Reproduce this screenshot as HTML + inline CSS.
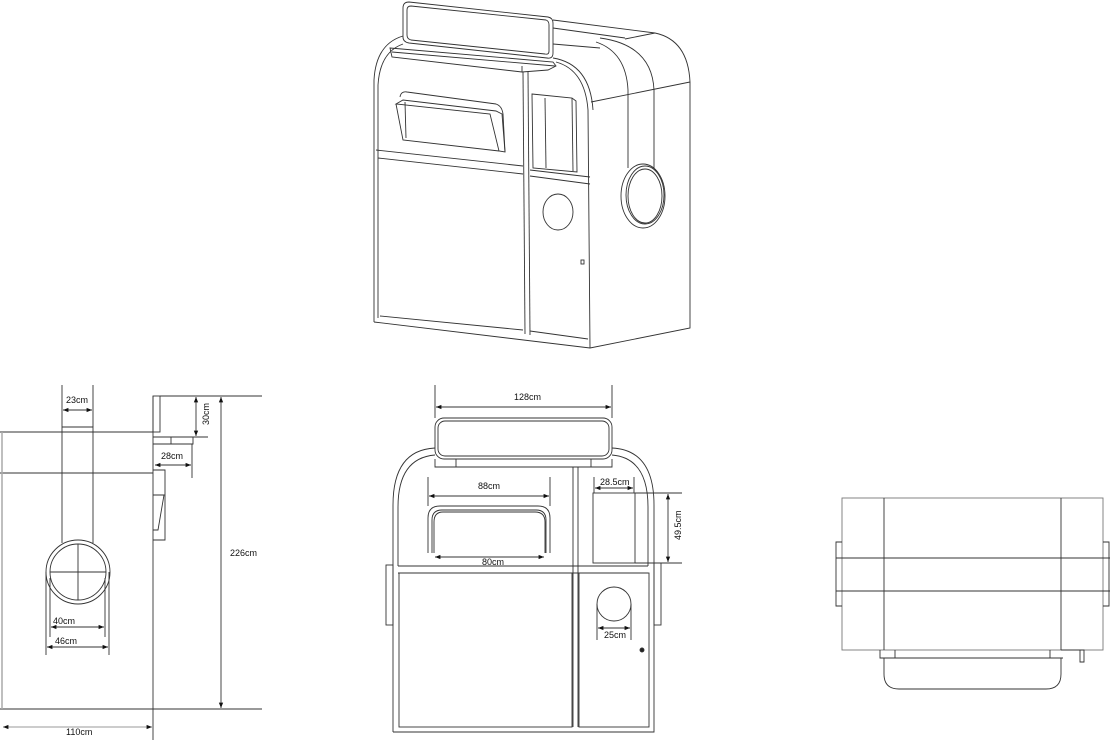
<!DOCTYPE html>
<html><head><meta charset="utf-8"><style>
html,body{margin:0;padding:0;background:#fff;}
svg{display:block;}
text{font-family:"Liberation Sans",sans-serif;font-size:9px;fill:#111;}
</style></head><body>
<svg width="1111" height="745" viewBox="0 0 1111 745" xmlns="http://www.w3.org/2000/svg">
<defs>
<marker id="a" viewBox="0 0 10 10" refX="10" refY="5" markerWidth="6" markerHeight="6" orient="auto-start-reverse"><path d="M0,1 L10,5 L0,9 z" fill="#111"/></marker>
</defs>
<g fill="none" stroke="#333" stroke-width="0.9">

<!-- ISO VIEW -->
<path d="M409,2 L548,17 Q553,18 553,23 L553,53 Q553,59 547,58 L409,43 Q403,42 403,37 L403,8 Q403,2 409,2 z"/>
<path d="M411,6 L546,20 Q549,21 549,25 L549,51 Q549,55 545,54 L411,40 Q407,39 407,35 L407,10 Q407,6 411,6 z"/>
<path d="M390,48 L553,62 L556,66 L548,70 L522,72 L392,57 z"/>
<line x1="392" y1="52" x2="555" y2="66"/>
<line x1="522" y1="66" x2="522" y2="72"/>
<path d="M374,322 L374,80 Q376,44 403,36"/>
<path d="M378,318 L378,85 Q380,52 403,44"/>
<path d="M556,62 Q585,70 588,110 L590,348"/>
<path d="M553,58 Q590,64 593,110"/>
<path d="M374,322 L590,348 L690,328 L690,82"/>
<path d="M553,20 L655,33 Q688,40 690,82"/>
<path d="M553,28 L625,38"/>
<path d="M625,39 L655,33"/>
<path d="M553,44 L600,48"/>
<line x1="591" y1="102" x2="690" y2="82"/>
<path d="M596,42 Q626,52 628,90 L628,168"/>
<path d="M600,38 Q652,45 654,90 L654,168"/>
<ellipse cx="643" cy="196" rx="22" ry="32"/>
<ellipse cx="645" cy="195" rx="19" ry="29"/>
<ellipse cx="645" cy="196" rx="17" ry="27"/>
<line x1="523" y1="72" x2="525" y2="334"/>
<line x1="528" y1="72" x2="530" y2="335"/>
<path d="M400,97 Q401,91 407,92 L496,104 Q502,106 503,114 L505,152"/>
<path d="M396,104 L403,100 L496,111 L502,114 L505,152 L499,151 L490,114 L396,104 z"/>
<path d="M396,104 L403,140 L499,151"/>
<line x1="405" y1="102" x2="406" y2="138"/>
<line x1="376" y1="150" x2="523" y2="166"/>
<line x1="378" y1="158" x2="523" y2="174"/>
<line x1="530" y1="170" x2="590" y2="177"/>
<line x1="530" y1="176" x2="590" y2="184"/>
<path d="M532,94 L572,98 L576,101 L577,172 L533,168 z"/>
<line x1="545" y1="98" x2="546" y2="168"/>
<line x1="572" y1="98" x2="573" y2="171"/>
<line x1="380" y1="316" x2="523" y2="330"/>
<line x1="530" y1="331" x2="588" y2="339"/>
<ellipse cx="558" cy="212" rx="15" ry="18"/>
<rect x="581" y="260" width="3" height="4"/>

<!-- SIDE VIEW -->
<path d="M0,432 L153,432 M0,473 L153,473 M0,709 L262,709"/>
<line x1="153" y1="396" x2="153" y2="740"/>
<rect x="153" y="396" width="7" height="36"/>
<path d="M153,437 L193,437 L193,444 L153,444 M171,437 L171,444"/>
<path d="M153,470 L165,470 L165,540 L153,540 M153,495 L164,495 L158,530 L153,530"/>
<path d="M62,432 L62,543 M93,432 L93,543 M62,427 L93,427 L93,432 M62,427 L62,432"/>
<circle cx="78" cy="572" r="32"/>
<circle cx="78" cy="572" r="28"/>
<path d="M78,544 L78,600 M50,572 L106,572"/>
<path d="M62,385 L62,427 M93,385 L93,427"/>
<line x1="63" y1="410" x2="92" y2="410" marker-start="url(#a)" marker-end="url(#a)"/>
<path d="M50,578 L50,637 M105,578 L105,637 M46,572 L46,655 M109,572 L109,655"/>
<line x1="51" y1="627" x2="104" y2="627" marker-start="url(#a)" marker-end="url(#a)"/>
<line x1="47" y1="647" x2="108" y2="647" marker-start="url(#a)" marker-end="url(#a)"/>
<path d="M160,396 L262,396 M193,437 L208,437 M192,444 L192,478"/>
<line x1="196" y1="397" x2="196" y2="436" marker-start="url(#a)" marker-end="url(#a)"/>
<line x1="155" y1="465" x2="191" y2="465" marker-start="url(#a)" marker-end="url(#a)"/>
<line x1="221" y1="397" x2="221" y2="708" marker-start="url(#a)" marker-end="url(#a)"/>
<line x1="3" y1="727" x2="152" y2="727" marker-start="url(#a)" marker-end="url(#a)" stroke="#999"/>
<line x1="2" y1="432" x2="2" y2="709" stroke="#aaa" stroke-width="1.5"/>

<!-- FRONT VIEW -->
<path d="M435,385 L435,418 M612,385 L612,418"/>
<line x1="436" y1="407" x2="611" y2="407" marker-start="url(#a)" marker-end="url(#a)"/>
<rect x="435" y="418" width="177" height="41" rx="9"/>
<rect x="438" y="421" width="171" height="35" rx="7"/>
<path d="M435,459 L435,467 L612,467 L612,459 M456,459 L456,467 M591,459 L591,467"/>
<path d="M393,732 L393,505 Q393,450 435,448"/>
<path d="M398,566 L398,507 Q398,458 435,455"/>
<path d="M612,448 Q654,450 654,505 L654,732 L393,732"/>
<path d="M612,455 Q648,458 648,507 L648,566"/>
<rect x="386" y="565" width="7" height="60"/>
<rect x="654" y="563" width="7" height="62"/>
<path d="M398,566 L648,566 M398,573 L648,573"/>
<path d="M573,467 L573,727 M578,467 L578,727"/>
<rect x="399" y="573" width="173" height="154"/>
<rect x="579" y="573" width="70" height="154"/>
<path d="M428,553 L428,518 Q428,506 440,506 L538,506 Q550,506 550,518 L550,553"/>
<path d="M432,553 L432,520 Q432,510 442,510 L536,510 Q546,510 546,520 L546,553"/>
<path d="M434,553 L434,522 Q434,512 443,512 L535,512 Q545,512 545,522 L545,553"/>
<path d="M428,477 L428,506 M550,477 L550,506"/>
<line x1="429" y1="496" x2="549" y2="496" marker-start="url(#a)" marker-end="url(#a)"/>
<line x1="435" y1="557" x2="544" y2="557" marker-start="url(#a)" marker-end="url(#a)"/>
<rect x="593" y="493" width="42" height="70"/>
<path d="M594,477 L594,493 M634,477 L634,493"/>
<line x1="595" y1="488" x2="633" y2="488" marker-start="url(#a)" marker-end="url(#a)"/>
<path d="M635,493 L682,493 M635,563 L682,563"/>
<line x1="668" y1="494" x2="668" y2="562" marker-start="url(#a)" marker-end="url(#a)"/>
<circle cx="614" cy="604" r="17"/>
<path d="M597,604 L597,640 M631,604 L631,640"/>
<line x1="598" y1="628" x2="630" y2="628" marker-start="url(#a)" marker-end="url(#a)"/>
<circle cx="642" cy="650" r="2" fill="#222"/>

<!-- TOP VIEW -->
<rect x="842" y="498" width="261" height="152" stroke="#777"/>
<path d="M884,498 L884,650 M1061,498 L1061,650"/>
<path d="M836,558 L1110,558 M836,591 L1110,591"/>
<path d="M842,542 L836,542 L836,606 L842,606 M1103,542 L1109,542 L1109,606 L1103,606"/>
<path d="M880,650 L880,658 L1063,658 M895,650 L895,658 M1050,650 L1050,658 M1061,650 L1084,650 L1084,662 L1080,662 L1080,650"/>
<path d="M884,658 L884,674 Q884,689 899,689 L1046,689 Q1061,689 1061,674 L1061,658"/>
</g>
<g>
<text x="66" y="403">23cm</text>
<text x="53" y="624">40cm</text>
<text x="55" y="644">46cm</text>
<text x="161" y="459">28cm</text>
<text x="209" y="425" transform="rotate(-90 209 425)">30cm</text>
<text x="230" y="556">226cm</text>
<text x="66" y="735">110cm</text>
<text x="514" y="400">128cm</text>
<text x="478" y="489">88cm</text>
<text x="482" y="565">80cm</text>
<text x="600" y="485">28.5cm</text>
<text x="681" y="540" transform="rotate(-90 681 540)">49.5cm</text>
<text x="604" y="638">25cm</text>
</g>
</svg>
</body></html>
